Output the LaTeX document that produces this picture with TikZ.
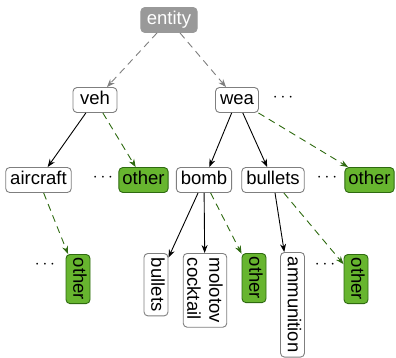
\documentclass[tikz,border=0pt]{standalone}
\usepackage{fontspec}
\setmainfont{Liberation Sans}
\usetikzlibrary{arrows.meta}
\definecolor{gfill}{HTML}{67B52F}
\definecolor{gdraw}{HTML}{2E6A10}
\definecolor{bdraw}{HTML}{7F7F7F}
\definecolor{efill}{HTML}{999999}
\tikzset{
  box/.style={draw=bdraw, line width=0.9pt, rounded corners=4pt, fill=white,
    font=\fontsize{18.5}{18.5}\selectfont, inner xsep=4.5pt, inner ysep=0pt,
    minimum height=25pt, text height=13.5pt, text depth=4pt},
  ent/.style={box, fill=efill, draw=efill, text=white, inner xsep=6pt},
  oth/.style={box, fill=gfill, draw=gdraw, inner xsep=3.5pt},
  rot/.style={rotate=-90, anchor=west, minimum height=24pt},
  solidarr/.style={-{Stealth[length=8pt,width=6pt]}, line width=0.9pt, black},
  grayarr/.style={-{Stealth[length=8pt,width=6pt]}, line width=0.9pt, bdraw, dash pattern=on 7pt off 5pt},
  greenarr/.style={-{Stealth[length=8pt,width=6pt]}, line width=0.9pt, gdraw, dash pattern=on 7pt off 5pt},
  dots/.style={font=\fontsize{17.5}{17.5}\selectfont, inner sep=0pt}
}
\begin{document}
\begin{tikzpicture}[x=1pt,y=-1pt]
\useasboundingbox (0,0) rectangle (396,358);
\node[ent] (entity) at (169,20) {entity};
\node[box, minimum width=44pt] (veh) at (95,100) {veh};
\node[box, minimum width=43pt] (wea) at (237,100) {wea};
\node[dots] (d1) at (283,98) {$\cdots$};
\node[box] (aircraft) at (38.5,180) {aircraft};
\node[dots] (d2) at (103,178) {$\cdots$};
\node[oth] (o1) at (143.5,180) {other};
\node[box] (bomb) at (204,180) {bomb};
\node[box] (bullets) at (273,180) {bullets};
\node[dots] (d3) at (327,178) {$\cdots$};
\node[oth] (o2) at (369.5,180) {other};
% bottom row
\node[dots] (d4) at (45,265) {$\cdots$};
\node[oth, rot] (o3) at (78,254) {other};
\node[box, rot] (bl) at (156,253) {bullets};
\node[box, rot, align=left, text height=, text depth=, inner ysep=4pt, font=\fontsize{18.5}{22}\selectfont] (mol) at (205,253) {molotov\\cocktail};
\node[oth, rot] (o4) at (254,253) {other};
\node[box, rot] (amm) at (292.5,252) {ammunition};
\node[dots] (d5) at (325,265) {$\cdots$};
\node[oth, rot] (o5) at (356,254) {other};
% edges
\draw[grayarr] (entity) -- (veh);
\draw[grayarr] (entity) -- (wea);
\draw[solidarr] (veh) -- (aircraft);
\draw[greenarr] (veh) -- (o1);
\draw[solidarr] (wea) -- (bomb);
\draw[solidarr] (wea) -- (bullets);
\draw[greenarr] (wea) -- (o2);
\draw[greenarr] (aircraft) -- (o3);
\draw[solidarr] (bomb) -- (bl);
\draw[solidarr] (bomb) -- (mol);
\draw[greenarr] (bomb) -- (o4);
\draw[solidarr] (bullets) -- (amm);
\draw[greenarr] (bullets) -- (o5);
\end{tikzpicture}
\end{document}
